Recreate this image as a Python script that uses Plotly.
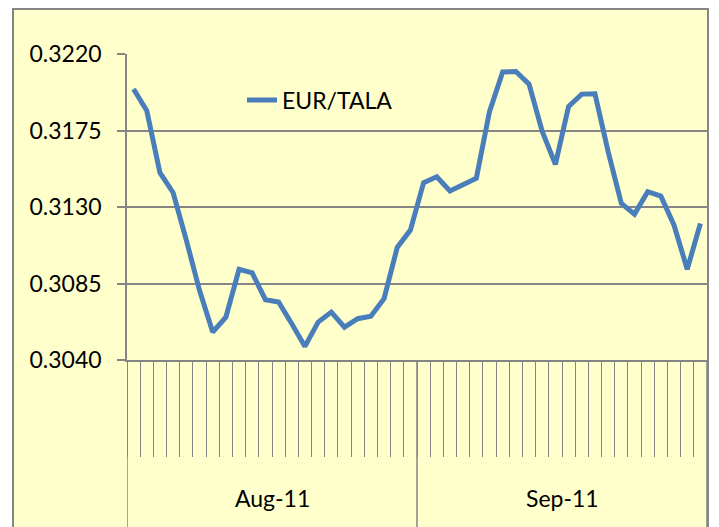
import plotly.graph_objects as go

# ---- data ----
aug_values = [0.31994, 0.31867, 0.31502, 0.31384, 0.31105, 0.30810, 0.30564, 0.30652,
              0.30934, 0.30912, 0.30755, 0.30741, 0.30613, 0.30480, 0.30623, 0.30682,
              0.30593, 0.30643, 0.30658, 0.30761, 0.31062, 0.31164]
sep_values = [0.31443, 0.31478, 0.31394, 0.31433, 0.31469, 0.31861, 0.32094, 0.32097,
              0.32023, 0.31744, 0.31551, 0.31891, 0.31964, 0.31966, 0.31626, 0.31321,
              0.31258, 0.31390, 0.31364, 0.31193, 0.30934, 0.31203]
month_labels = ["Aug-11", "Sep-11"]
series_name = "EUR/TALA"
y_ticks = [0.3040, 0.3085, 0.3130, 0.3175, 0.3220]

groups = [aug_values, sep_values]
categories, values = [], []
for m, vals in zip(month_labels, groups):
    for i, v in enumerate(vals):
        categories.append(f"{m} #{i + 1}")
        values.append(v)

# ---- styling ----
YELLOW = "#FFFFCC"
GREY = "#858585"
BLUE = "#4A7EBB"
FONT = "Lato"
FS = 23

OFF = 8  # page body margin
W, H = 719 - OFF, 527 - OFF
L, R, T = 127 - OFF, 12, 54 - OFF
B = H - (360 - OFF)
pw, ph = W - L - R, H - T - B

def px_x(p):
    return (p - OFF - L) / pw

def px_y(p):
    return (H - B - (p - OFF)) / ph

fig = go.Figure()
fig.add_trace(go.Scatter(x=categories, y=values, mode="lines", name=series_name,
                         line=dict(color=BLUE, width=5)))

shapes = [
    dict(type="rect", xref="paper", yref="paper", layer="below",
         x0=px_x(13), x1=px_x(708), y0=px_y(9), y1=px_y(560),
         fillcolor=YELLOW, line=dict(color=GREY, width=2)),
]
annotations = []
start = 0
for m, vals in zip(month_labels, groups):
    end = start + len(vals)
    shapes.append(dict(type="line", xref="x", yref="paper", x0=start - 0.5, x1=start - 0.5,
                       y0=0, y1=px_y(560), line=dict(color=GREY, width=1.5)))
    annotations.append(dict(text=m, xref="x", yref="paper", x=(start + end - 1) / 2,
                            y=px_y(498), showarrow=False, yanchor="middle",
                            font=dict(family=FONT, size=FS, color="black")))
    start = end
shapes.append(dict(type="line", xref="x", yref="paper", x0=start - 0.5, x1=start - 0.5,
                   y0=0, y1=px_y(560), line=dict(color=GREY, width=1.5)))

fig.update_layout(
    width=W, height=H,
    margin=dict(l=L, r=R, t=T, b=B, pad=0),
    paper_bgcolor="white",
    plot_bgcolor="rgba(0,0,0,0)",
    font=dict(family=FONT, size=FS, color="black"),
    showlegend=True,
    legend=dict(x=px_x(242), y=px_y(100), xanchor="left", yanchor="middle",
                bgcolor="rgba(0,0,0,0)", font=dict(family=FONT, size=FS, color="black")),
    shapes=shapes,
    annotations=annotations,
    xaxis=dict(type="category", showticklabels=False, showgrid=False, dtick=1,
               ticks="outside", tickson="boundaries", ticklen=95, tickwidth=1.3,
               tickcolor=GREY, showline=True, linecolor=GREY, linewidth=1.5,
               range=[-0.5, len(categories) - 0.5], zeroline=False),
    yaxis=dict(range=[y_ticks[0], y_ticks[-1]], tickvals=y_ticks, tickformat=".4f",
               showgrid=True, gridcolor=GREY, gridwidth=1.5,
               ticks="outside", ticklen=8, tickwidth=1.5, tickcolor=GREY,
               showline=True, linecolor=GREY, linewidth=1.5, zeroline=False,
               ticklabelstandoff=11, tickfont=dict(family=FONT, size=FS, color="black")),
)

fig.write_html("out.html")
